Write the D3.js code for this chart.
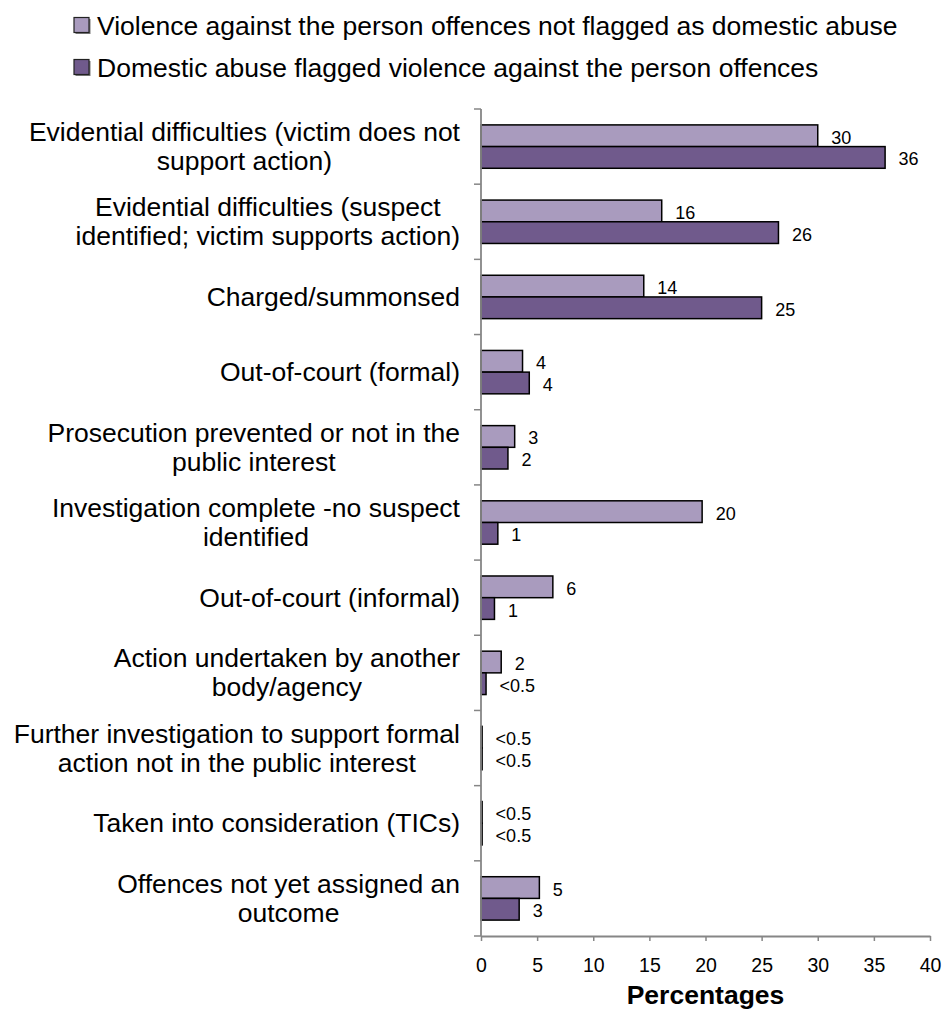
<!DOCTYPE html>
<html>
<head>
<meta charset="utf-8">
<script src="https://cdn.jsdelivr.net/npm/d3@7"></script>
<style>
  html, body { margin: 0; padding: 0; background: #fff; }
  svg { display: block; font-family: "Liberation Sans", Arial, sans-serif; }
</style>
</head>
<body>
<svg id="chart" width="944" height="1010"></svg>
<script>
// ---- Data ----
const categories = [
  "Evidential difficulties (victim does not|support action)",
  "Evidential difficulties (suspect|identified; victim supports action)",
  "Charged/summonsed",
  "Out-of-court (formal)",
  "Prosecution prevented or not in the|public interest",
  "Investigation complete -no suspect|identified",
  "Out-of-court (informal)",
  "Action undertaken by another|body/agency",
  "Further investigation to support formal|action not in the public interest",
  "Taken into consideration (TICs)",
  "Offences not yet assigned an|outcome"
];
const seriesNames = [
  "Violence against the person offences not flagged as domestic abuse",
  "Domestic abuse flagged violence against the person offences"
];
const notFlaggedValues = [30, 16.1, 14.5, 3.7, 3.0, 19.7, 6.4, 1.8, 0.1, 0.1, 5.2];
const domesticValues   = [36, 26.5, 25.0, 4.3, 2.4, 1.5, 1.2, 0.45, 0.1, 0.1, 3.4];
const notFlaggedLabels = ["30", "16", "14", "4", "3", "20", "6", "2", "<0.5", "<0.5", "5"];
const domesticLabels   = ["36", "26", "25", "4", "2", "1", "1", "<0.5", "<0.5", "<0.5", "3"];
const xTicks = [0, 5, 10, 15, 20, 25, 30, 35, 40];
const xTitle = "Percentages";
const colors = ["#A99BBE", "#705A8C"];

// ---- Layout ----
const svg = d3.select("#chart");
const plot = { left: 481, right: 930, top: 109, bottom: 936 };
const BIG = 26.5;

const x = d3.scaleLinear().domain([0, 40]).range([plot.left, plot.right]);
const y0 = d3.scaleBand().domain(categories).range([plot.top, plot.bottom])
  .paddingInner(0.423).paddingOuter(0.2115);
const y1 = d3.scaleBand().domain([0, 1]).range([0, y0.bandwidth()]);

const rows = categories.map((c, i) => ({
  cat: c,
  vals: [
    { s: 0, v: notFlaggedValues[i], label: notFlaggedLabels[i] },
    { s: 1, v: domesticValues[i], label: domesticLabels[i] }
  ]
}));

// bars
const g = svg.append("g");
const grp = g.selectAll("g.cat").data(rows).join("g")
  .attr("transform", d => `translate(0,${y0(d.cat)})`);
grp.selectAll("rect").data(d => d.vals).join("rect")
  .attr("x", x(0))
  .attr("y", d => y1(d.s))
  .attr("width", d => x(d.v) - x(0))
  .attr("height", y1.bandwidth())
  .attr("fill", d => colors[d.s])
  .attr("stroke", "#000")
  .attr("stroke-width", 1.5);
grp.selectAll("text").data(d => d.vals).join("text")
  .attr("x", d => x(d.v) + 13.5)
  .attr("y", d => y1(d.s) + y1.bandwidth() / 2 + 2)
  .attr("dominant-baseline", "central")
  .attr("font-size", 18)
  .attr("fill", "#000")
  .text(d => d.label);

// axes
const axisColor = "#868686";
const step = y0.step();
const yTickPos = d3.range(categories.length + 1).map(i => plot.top + i * step);
const ya = svg.append("g");
ya.append("line").attr("x1", x(0)).attr("x2", x(0))
  .attr("y1", plot.top).attr("y2", plot.bottom)
  .attr("stroke", axisColor).attr("stroke-width", 1.8);
ya.selectAll("line.t").data(yTickPos).join("line").attr("class", "t")
  .attr("x1", x(0) - 7).attr("x2", x(0))
  .attr("y1", d => d).attr("y2", d => d)
  .attr("stroke", axisColor).attr("stroke-width", 1.5);

const xa = svg.append("g").attr("transform", `translate(0,${plot.bottom})`)
  .call(d3.axisBottom(x).tickValues(xTicks).tickSize(5).tickPadding(17).tickSizeOuter(0));
xa.select(".domain").attr("stroke", axisColor).attr("stroke-width", 1.8);
xa.selectAll(".tick line").attr("stroke", axisColor).attr("stroke-width", 1.5);
xa.selectAll(".tick text").attr("font-size", 19.5).attr("fill", "#000")
  .attr("font-family", "'Liberation Sans', Arial, sans-serif");

svg.append("text").attr("x", (plot.left + plot.right) / 2).attr("y", 1003.5)
  .attr("text-anchor", "middle").attr("font-weight", "bold").attr("font-size", BIG)
  .text(xTitle);

// category labels
const labelRight = 460;
const lineH = 29;
categories.forEach(c => {
  const lines = c.split("|");
  const t = svg.append("text").attr("font-size", BIG).attr("fill", "#000")
    .attr("text-anchor", "middle").attr("dominant-baseline", "central");
  const cy = y0(c) - y0.step() * y0.paddingInner() / 2 + y0.step() / 2;
  const spans = lines.map((ln, k) => t.append("tspan")
    .attr("y", cy + (k - (lines.length - 1) / 2) * lineH).text(ln));
  const maxW = d3.max(spans, s => s.node().getComputedTextLength());
  spans.forEach(s => s.attr("x", labelRight - maxW / 2));
});

// legend
const legY = [26, 68];
seriesNames.forEach((name, i) => {
  const lg = svg.append("g");
  lg.append("rect").attr("x", 75.5).attr("y", legY[i] - 7).attr("width", 15).attr("height", 15)
    .attr("fill", "#7a7a7a");
  lg.append("rect").attr("x", 74).attr("y", legY[i] - 8.5).attr("width", 15).attr("height", 15)
    .attr("fill", colors[i]).attr("stroke", "#222").attr("stroke-width", 1.2);
  lg.append("text").attr("x", 97).attr("y", legY[i]).attr("dominant-baseline", "central")
    .attr("font-size", BIG).attr("fill", "#000").text(name);
});
</script>
</body>
</html>
